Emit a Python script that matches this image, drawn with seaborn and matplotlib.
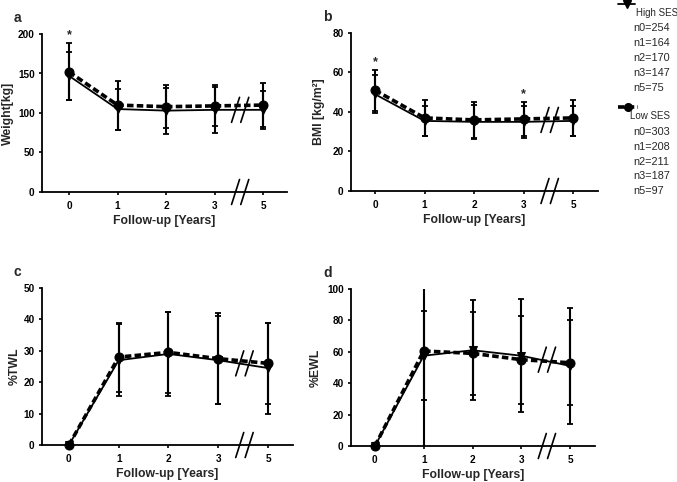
import numpy as np
import pandas as pd
import matplotlib
matplotlib.use("Agg")
import matplotlib.pyplot as plt
from matplotlib.lines import Line2D
import seaborn as sns

# follow-up years (categorical positions 0..4)
years = ["0", "1", "2", "3", "5"]
groups = ["High SES", "Low SES"]

# panel a - weight [kg]
weight_high = [147, 105, 103, 104, 104]
weight_high_sd = [30, 26, 29, 29, 24]
weight_low = [152, 110, 108, 109, 110]
weight_low_sd = [36, 31, 27, 26, 28]

# panel b - BMI
bmi_high = [49, 35.5, 35, 35, 35.5]
bmi_high_sd = [9.5, 7.5, 8.5, 8, 7.5]
bmi_low = [51, 37, 36, 36.5, 37]
bmi_low_sd = [10.5, 9, 9, 8.5, 9]

# panel c - %TWL
twl_high = [0, 27, 29, 27, 24.5]
twl_high_sd = [0, 11.5, 13.5, 14, 14.5]
twl_low = [0, 28, 29.5, 27.5, 26]
twl_low_sd = [0, 11, 13, 14.5, 13]

# panel d - %EWL
ewl_high = [0, 57.5, 61, 57.5, 51]
ewl_high_sd = [0, 28.5, 32, 36, 37]
ewl_low = [0, 60.5, 59, 55, 53]
ewl_low_sd = [0, 62, 26.5, 28, 27]

n_high = ["n0=254", "n1=164", "n2=170", "n3=147", "n5=75"]
n_low = ["n0=303", "n1=208", "n2=211", "n3=187", "n5=97"]

sns.set_style("ticks")
plt.rcParams["font.family"] = ["Liberation Sans", "DejaVu Sans"]

W, H = 677, 482
fig = plt.figure(figsize=(W / 100, H / 100), dpi=100)


def make_df(high, high_sd, low, low_sd):
    rows = []
    for g, m, s in [("High SES", high, high_sd), ("Low SES", low, low_sd)]:
        for i, y in enumerate(years):
            rows.append({"pos": i, "year": y, "group": g, "mean": m[i], "sd": s[i]})
    return pd.DataFrame(rows)


def panel(box, df, ymax, ystep, ylabel, letter, xlim, ylab_x, brk_y, stars=()):
    l, r, t, b = box
    ax = fig.add_axes([l / W, 1 - b / H, (r - l) / W, (b - t) / H])
    styles = {"High SES": dict(marker="v", ms=5.5, lw=1.3, dash=""),
              "Low SES": dict(marker="o", ms=6.5, lw=2.6, dash=(1.8, 0.9))}
    for g in groups:
        sub = df[df.group == g]
        st = styles[g]
        sns.lineplot(data=sub, x="pos", y="mean", ax=ax, color="black",
                     marker=st["marker"], markersize=st["ms"], linewidth=st["lw"],
                     markeredgecolor="black", legend=False, errorbar=None)
        if st["dash"]:
            ax.lines[-1].set_dashes(st["dash"])
        ax.lines[-1].set_clip_on(False)
        ax.errorbar(sub["pos"], sub["mean"], yerr=sub["sd"], fmt="none",
                    ecolor="black", elinewidth=1.5, capsize=2.5, capthick=1.3)
    ax.set_xlim(*xlim)
    ax.set_ylim(0, ymax)
    ax.set_xticks(range(len(years)))
    ax.set_xticklabels(years)
    ax.set_yticks(np.arange(0, ymax + 0.1, ystep))
    ax.tick_params(axis="both", labelsize=7.2, length=2.3, width=1.2, pad=3, colors="black")
    ax.tick_params(axis="x", pad=4.5)
    for lab in ax.get_xticklabels() + ax.get_yticklabels():
        lab.set_fontweight("bold")
    sns.despine(ax=ax)
    for sp in ["left", "bottom"]:
        ax.spines[sp].set_linewidth(1.3)
        ax.spines[sp].set_color("black")
    ax.set_xlabel("Follow-up [Years]", fontsize=8.8, fontweight="bold")
    ax.set_ylabel(ylabel, fontsize=8.8, fontweight="bold")
    ax.xaxis.set_label_coords(0.5, -0.148)
    ax.yaxis.set_label_coords(ylab_x, 0.5)
    fig.text((l - 28) / W, 1 - (t - 16) / H, letter, fontsize=10, fontweight="bold",
             ha="left", va="center")
    # axis break marks
    hpx = 12.5
    wpx = 4.0
    dy = hpx * ymax / (b - t)
    dx = wpx * (xlim[1] - xlim[0]) / (r - l)
    for yc in [0, brk_y]:
        for xc in [3.43, 3.62]:
            ax.add_line(Line2D([xc - dx, xc + dx], [yc - dy, yc + dy], color="black",
                               lw=1.2, clip_on=False))
    for sx, sy in stars:
        ax.text(sx, sy, "*", ha="center", va="center", fontsize=9, fontweight="bold")
    return ax


panel((42, 287, 34, 192), make_df(weight_high, weight_high_sd, weight_low, weight_low_sd),
      200, 50, "Weight[kg]", "a", (-0.557, 4.49), -0.114, 104, stars=[(0, 198)])
panel((351, 598, 33, 191), make_df(bmi_high, bmi_high_sd, bmi_low, bmi_low_sd),
      80, 20, "BMI [kg/m²]", "b", (-0.485, 4.5), -0.105, 36,
      stars=[(0, 65), (3, 49)])
panel((42, 293, 288, 445), make_df(twl_high, twl_high_sd, twl_low, twl_low_sd),
      50, 10, "%TWL", "c", (-0.54, 4.5), -0.084, 26)
panel((351, 595, 289, 446), make_df(ewl_high, ewl_high_sd, ewl_low, ewl_low_sd),
      100, 20, "%EWL", "d", (-0.49, 4.51), -0.12, 55)


# legend on the right
def fx(x):
    return x / W


def fy(y):
    return 1 - y / H


fig.add_artist(Line2D([fx(618), fx(635)], [fy(4), fy(4)], transform=fig.transFigure,
                      color="black", lw=1.3))
fig.add_artist(Line2D([fx(626.5)], [fy(4)], transform=fig.transFigure, color="black",
                      marker="v", markersize=5.5, lw=0))
fig.text(fx(636), fy(13), "High SES", fontsize=7.0, ha="left", va="center")
for i, s in enumerate(n_high):
    fig.text(fx(633), fy(28 + 15 * i), s, fontsize=7.8, ha="left", va="center")

ln = Line2D([fx(618), fx(638)], [fy(107), fy(107)], transform=fig.transFigure,
            color="black", lw=2.6)
ln.set_dashes((1.8, 0.9))
fig.add_artist(ln)
fig.add_artist(Line2D([fx(627.5)], [fy(107)], transform=fig.transFigure, color="black",
                      marker="o", markersize=5.5, lw=0))
fig.text(fx(630), fy(116), "Low SES", fontsize=7.0, ha="left", va="center")
for i, s in enumerate(n_low):
    fig.text(fx(633), fy(132 + 14.8 * i), s, fontsize=7.8, ha="left", va="center")

fig.savefig("out.png", dpi=100)
